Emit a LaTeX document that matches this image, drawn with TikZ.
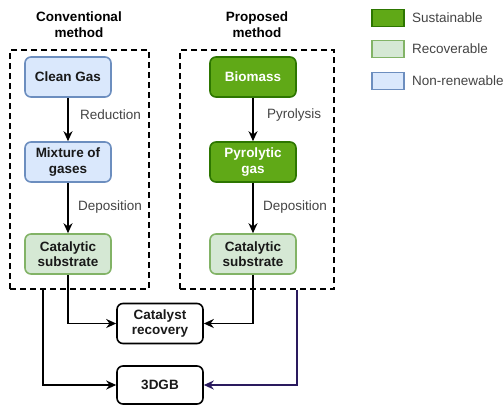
\documentclass[tikz,border=0pt]{standalone}
\usepackage{fontspec}
\setmainfont{Liberation Sans}
\usetikzlibrary{arrows.meta,calc}
\definecolor{susfill}{HTML}{60A917}
\definecolor{susdraw}{HTML}{2D7600}
\definecolor{recfill}{HTML}{D5E8D4}
\definecolor{recdraw}{HTML}{82B366}
\definecolor{nonfill}{HTML}{DAE8FC}
\definecolor{nondraw}{HTML}{6C8EBF}
\definecolor{lblgray}{HTML}{444444}
\definecolor{purp}{HTML}{2A1A5E}
\tikzset{
  every node/.style={font=\fontsize{13.5}{15.5}\selectfont, align=center, inner sep=0pt},
  stepbox/.style={rounded corners=6pt, line width=1.6pt, minimum width=86pt, minimum height=40pt, font=\fontsize{13.5}{15.5}\selectfont\bfseries},
  susbox/.style={stepbox, fill=susfill, draw=susdraw, text=white},
  recbox/.style={stepbox, fill=recfill, draw=recdraw, text=black!90},
  nonbox/.style={stepbox, fill=nonfill, draw=nondraw, text=black!90},
  plainbox/.style={stepbox, fill=white, draw=black, text=black!90},
  groupbox/.style={draw=black, line width=1.8pt, dash pattern=on 6pt off 4pt},
  conn/.style={line width=1.7pt, -{Stealth[length=10pt,width=9pt]}},
  lbl/.style={text=lblgray, anchor=west},
  head/.style={font=\fontsize{13.5}{16}\selectfont\bfseries},
  legbox/.style={minimum width=32pt, minimum height=17pt, line width=1.5pt},
}
\begin{document}
\begin{tikzpicture}[x=1pt,y=-1pt]
\useasboundingbox (0,0) rectangle (504,405);
% group boxes
\node[groupbox, minimum width=139pt, minimum height=239pt] (lgrp) at (79.5,169.5) {};
\node[groupbox, minimum width=154pt, minimum height=239pt] (rgrp) at (257,169.5) {};
% headings
\node[head] (lhead) at (79,25) {Conventional\\method};
\node[head] (rhead) at (257,25) {Proposed\\method};
% left column
\node[nonbox] (clean) at (68,77) {Clean Gas};
\node[nonbox] (mix) at (68,162) {Mixture of\\gases};
\node[recbox] (lcat) at (68,254) {Catalytic\\substrate};
% right column
\node[susbox] (bio) at (253,77) {Biomass};
\node[susbox] (pyro) at (253,162) {Pyrolytic\\gas};
\node[recbox] (rcat) at (253,254) {Catalytic\\substrate};
% bottom
\node[plainbox] (recov) at (160,323.5) {Catalyst\\recovery};
\node[plainbox, minimum height=38pt] (dgb) at (160,385) {3DGB};
% arrows
\draw[conn] (clean) -- (mix);
\draw[conn] (mix) -- (lcat);
\draw[conn] (bio) -- (pyro);
\draw[conn] (pyro) -- (rcat);
\node[lbl] (lred) at (80,115) {Reduction};
\node[lbl] (ldep) at (78,207) {Deposition};
\node[lbl] (lpyr) at (267,115) {Pyrolysis};
\node[lbl] (rdep) at (263,207) {Deposition};
\draw[conn] (lcat.south) |- (recov.west);
\draw[conn] (rcat.south) |- (recov.east);
\coordinate (lgo) at ([xshift=34pt]lgrp.south west);
\coordinate (rgo) at ([xshift=-38pt]rgrp.south east);
\draw[conn] (lgo) |- (dgb.west);
\draw[conn, draw=purp] (rgo) |- (dgb.east);
% legend
\node[legbox, fill=susfill, draw=susdraw] (lg1) at (388,18) {};
\node[legbox, fill=recfill, draw=recdraw] (lg2) at (388,49) {};
\node[legbox, fill=nonfill, draw=nondraw] (lg3) at (388,81) {};
\node[lbl] (lt1) at (412,18) {Sustainable};
\node[lbl] (lt2) at (412,49) {Recoverable};
\node[lbl] (lt3) at (412,81) {Non-renewable};
\end{tikzpicture}
\end{document}
